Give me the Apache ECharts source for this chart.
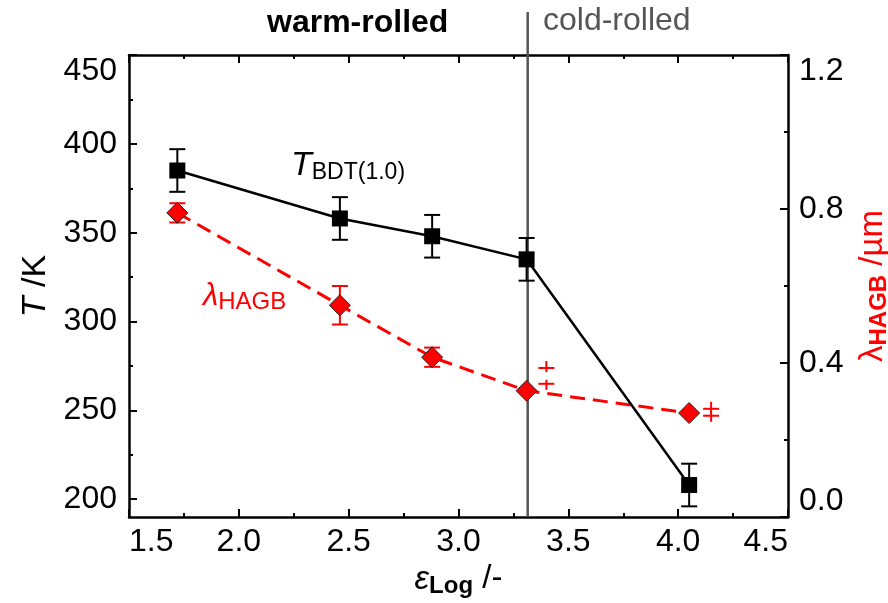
<!DOCTYPE html>
<html>
<head>
<meta charset="utf-8">
<title>T_BDT and lambda_HAGB vs eps_Log</title>
<script src="https://cdn.jsdelivr.net/npm/echarts@6/dist/echarts.min.js"></script>
<style>
html, body { margin:0; padding:0; background:#fff; }
#chart { width:888px; height:603px; }
</style>
</head>
<body>
<div id="chart"></div>
<script>
// data
var epsLog = [1.72, 2.46, 2.88, 3.31, 4.05];
var tBdt = [385, 358, 348, 335, 208];
var tBdtErr = [12, 12, 12, 12, 12];
var lambdaHagb = [0.79, 0.55, 0.415, 0.328, 0.27];
var lambdaErr = [0.025, 0.05, 0.025, 0, 0];
// error markers drawn beside the last two diamonds: [x, upper cap, lower cap]
var lambdaSideErr = [[3.40, 0.387, 0.346], [4.15, 0.281, 0.263]];
var coldRolledFrom = 3.315;

var xRange = [1.5, 4.5];
var tRange = [190, 450];
var tTicks = [200, 250, 300, 350, 400, 450];
var tMinorTicks = [225, 275, 325, 375, 425];
var lambdaRange = [0, 1.2];

var FONT = 'Liberation Sans';

function pairs(xs, ys) {
    return xs.map(function (x, i) { return [x, ys[i]]; });
}

function errRows(xs, ys, errs) {
    var rows = [];
    xs.forEach(function (x, i) {
        if (errs[i] > 0) rows.push([x, ys[i] + errs[i], ys[i] - errs[i]]);
    });
    return rows;
}

function errorBarItem(params, api) {
    var x = api.value(0);
    var hi = api.coord([x, api.value(1)]);
    var lo = api.coord([x, api.value(2)]);
    var w = 8;
    var style = { stroke: api.visual('color'), lineWidth: 2 };
    return {
        type: 'group',
        children: [
            { type: 'line', shape: { x1: hi[0], y1: hi[1], x2: lo[0], y2: lo[1] }, style: style },
            { type: 'line', shape: { x1: hi[0] - w, y1: hi[1], x2: hi[0] + w, y2: hi[1] }, style: style },
            { type: 'line', shape: { x1: lo[0] - w, y1: lo[1], x2: lo[0] + w, y2: lo[1] }, style: style }
        ]
    };
}

function sideErrItem(params, api) {
    var x = api.value(0);
    var hi = api.coord([x, api.value(1)]);
    var lo = api.coord([x, api.value(2)]);
    var w = 8;
    var style = { stroke: api.visual('color'), lineWidth: 2 };
    return {
        type: 'group',
        children: [
            { type: 'line', shape: { x1: hi[0] - w, y1: hi[1], x2: hi[0] + w, y2: hi[1] }, style: style },
            { type: 'line', shape: { x1: hi[0], y1: hi[1] - 7, x2: hi[0], y2: hi[1] + 4 }, style: style },
            { type: 'line', shape: { x1: lo[0] - w, y1: lo[1], x2: lo[0] + w, y2: lo[1] }, style: style },
            { type: 'line', shape: { x1: lo[0], y1: lo[1] - 4, x2: lo[0], y2: lo[1] + 6 }, style: style }
        ]
    };
}

function dividerItem(params, api) {
    var x = api.value(0);
    var bottom = api.coord([x, tRange[0]]);
    var top = api.coord([x, tRange[1]]);
    return {
        type: 'line',
        shape: { x1: bottom[0], y1: bottom[1], x2: top[0], y2: top[1] - 43 },
        style: { stroke: '#555', lineWidth: 2.5 }
    };
}

var axisLine = { show: true, onZero: false, lineStyle: { color: '#000', width: 2.5 } };
var labelBase = { fontFamily: FONT, fontSize: 32, color: '#000' };

var chart = echarts.init(document.getElementById('chart'));
var option = {
    animation: false,
    backgroundColor: '#fff',
    textStyle: { fontFamily: FONT },
    grid: { left: 129, right: 100, top: 55, bottom: 86, containLabel: false, outerBoundsMode: 'none' },
    xAxis: [
        {
            type: 'value', position: 'bottom',
            min: xRange[0], max: xRange[1], interval: 0.5,
            axisLine: axisLine,
            axisTick: { inside: true, length: 8, lineStyle: { color: '#000', width: 2 } },
            minorTick: { show: true, splitNumber: 2, length: 4, lineStyle: { color: '#000', width: 2 } },
            splitLine: { show: false },
            axisLabel: Object.assign({
                margin: 9,
                alignMinLabel: 'left', alignMaxLabel: 'right',
                formatter: function (v) { return v.toFixed(1); }
            }, labelBase),
            name: '{e|ε}{sub|Log}{n| /-}',
            nameLocation: 'middle', nameGap: 43,
            nameTextStyle: {
                rich: {
                    e: { fontFamily: FONT, fontSize: 33, fontStyle: 'italic', color: '#000' },
                    sub: { fontFamily: FONT, fontSize: 24, fontWeight: 'bold', color: '#000', padding: [13, 0, 0, 0] },
                    n: { fontFamily: FONT, fontSize: 33, color: '#000' }
                }
            }
        },
        {
            type: 'value', position: 'top',
            min: xRange[0], max: xRange[1], interval: 0.5,
            axisLine: axisLine,
            axisTick: { inside: true, length: 8, lineStyle: { color: '#000', width: 2 } },
            minorTick: { show: true, splitNumber: 2, length: 4, lineStyle: { color: '#000', width: 2 } },
            splitLine: { show: false },
            axisLabel: { show: false }
        }
    ],
    yAxis: [
        {
            type: 'value', position: 'left',
            min: tRange[0], max: tRange[1],
            axisLine: axisLine,
            axisTick: { inside: true, length: 8, customValues: tTicks, lineStyle: { color: '#000', width: 2 } },
            splitLine: { show: false },
            axisLabel: Object.assign({
                margin: 12, customValues: tTicks,
                verticalAlignMaxLabel: 'top'
            }, labelBase),
            name: '{t|T}{n| /K}',
            nameLocation: 'middle', nameRotate: 90, nameGap: 72,
            nameTextStyle: {
                rich: {
                    t: { fontFamily: FONT, fontSize: 34, fontStyle: 'italic', color: '#000' },
                    n: { fontFamily: FONT, fontSize: 34, color: '#000' }
                }
            }
        },
        {
            type: 'value', position: 'right',
            min: lambdaRange[0], max: lambdaRange[1], interval: 0.4,
            axisLine: axisLine,
            axisTick: { inside: true, length: 8, lineStyle: { color: '#000', width: 2 } },
            minorTick: { show: true, splitNumber: 2, length: 4, lineStyle: { color: '#000', width: 2 } },
            splitLine: { show: false },
            axisLabel: Object.assign({
                margin: 11,
                verticalAlignMinLabel: 'bottom', verticalAlignMaxLabel: 'top',
                formatter: function (v) { return v.toFixed(1); }
            }, labelBase),
            name: '{l|λ}{sub|HAGB}{n| /µm}',
            nameLocation: 'middle', nameRotate: 90, nameGap: 66,
            nameTextStyle: {
                rich: {
                    l: { fontFamily: FONT, fontSize: 33, color: '#ff0000' },
                    sub: { fontFamily: FONT, fontSize: 24, fontWeight: 'bold', color: '#ff0000', padding: [13, 0, 0, 0] },
                    n: { fontFamily: FONT, fontSize: 33, color: '#ff0000' }
                }
            }
        },
        {
            // minor ticks of the T axis
            type: 'value', position: 'left',
            min: tRange[0], max: tRange[1],
            axisLine: { show: false },
            axisTick: { inside: true, length: 4, customValues: tMinorTicks, lineStyle: { color: '#000', width: 2 } },
            splitLine: { show: false },
            axisLabel: { show: false }
        }
    ],
    graphic: [
        {
            type: 'text', left: 267, top: 7,
            style: { text: 'warm-rolled', fontFamily: FONT, fontSize: 32, fontWeight: 'bold', fill: '#000' }
        },
        {
            type: 'text', left: 543, top: 5,
            style: { text: 'cold-rolled', fontFamily: FONT, fontSize: 32, fill: '#555' }
        },
        {
            type: 'text', left: 291, top: 149,
            style: {
                text: '{t|T}{sub|BDT(1.0)}',
                rich: {
                    t: { fontFamily: FONT, fontSize: 34, fontStyle: 'italic', fill: '#000' },
                    sub: { fontFamily: FONT, fontSize: 23, fill: '#000', padding: [14, 0, 0, 0] }
                }
            }
        },
        {
            type: 'text', left: 203, top: 281,
            style: {
                text: '{l|λ}{sub|HAGB}',
                rich: {
                    l: { fontFamily: FONT, fontSize: 31, fontStyle: 'italic', fill: '#ff0000' },
                    sub: { fontFamily: FONT, fontSize: 24, fill: '#ff0000', padding: [12, 0, 0, 0] }
                }
            }
        }
    ],
    series: [
        {
            type: 'custom', name: 'divider',
            xAxisIndex: 0, yAxisIndex: 0,
            clip: false, silent: true, z: 1,
            data: [[coldRolledFrom, tRange[0]]],
            renderItem: dividerItem
        },
        {
            type: 'line', name: 'lambda_HAGB',
            xAxisIndex: 0, yAxisIndex: 1, z: 3,
            data: pairs(epsLog, lambdaHagb),
            symbol: 'diamond', symbolSize: 21,
            itemStyle: { color: '#ff0000', borderColor: '#222', borderWidth: 1 },
            lineStyle: { color: '#ff0000', width: 3, type: [15, 8] }
        },
        {
            type: 'custom', name: 'lambda_err',
            xAxisIndex: 0, yAxisIndex: 1, z: 2,
            itemStyle: { color: '#ff0000' },
            data: errRows(epsLog, lambdaHagb, lambdaErr),
            renderItem: errorBarItem
        },
        {
            type: 'custom', name: 'lambda_side_err',
            xAxisIndex: 0, yAxisIndex: 1, z: 2,
            itemStyle: { color: '#ff0000' },
            data: lambdaSideErr,
            renderItem: sideErrItem
        },
        {
            type: 'line', name: 'T_BDT',
            xAxisIndex: 0, yAxisIndex: 0, z: 4,
            data: pairs(epsLog, tBdt),
            symbol: 'rect', symbolSize: 16,
            itemStyle: { color: '#000' },
            lineStyle: { color: '#000', width: 2.5 }
        },
        {
            type: 'custom', name: 'T_err',
            xAxisIndex: 0, yAxisIndex: 0, z: 3,
            itemStyle: { color: '#000' },
            data: errRows(epsLog, tBdt, tBdtErr),
            renderItem: errorBarItem
        }
    ]
};
chart.setOption(option);
</script>
</body>
</html>
